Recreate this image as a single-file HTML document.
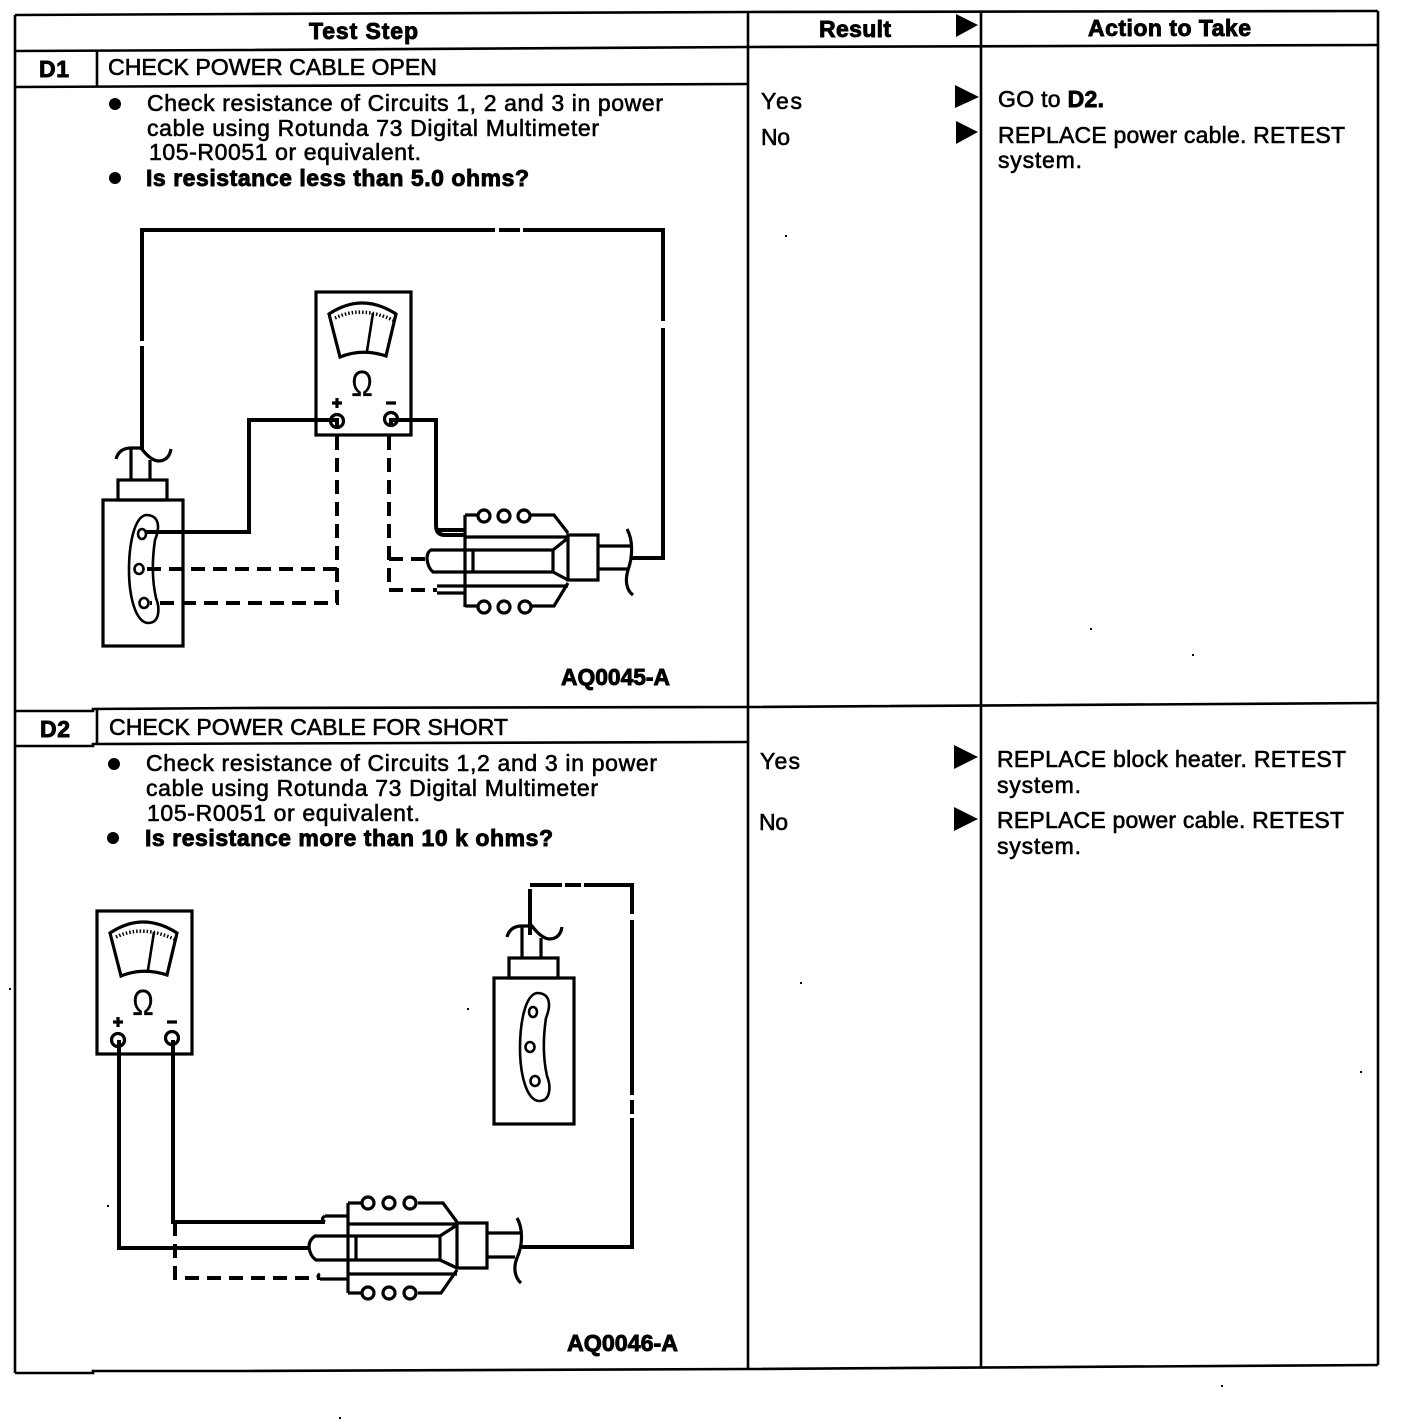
<!DOCTYPE html>
<html><head><meta charset="utf-8"><style>
html,body{margin:0;padding:0;background:#fff}
svg{display:block}
text{font-family:"Liberation Sans",sans-serif;font-size:23px;fill:#000;stroke:#000;stroke-width:.6px}
.b{font-weight:bold;stroke-width:.9px}
.t{fill:none;stroke:#000;stroke-width:2.6}
.m{fill:none;stroke:#000;stroke-width:3.2}
.w{fill:none;stroke:#000;stroke-width:4}
.d{fill:none;stroke:#000;stroke-width:4;stroke-dasharray:14 8}
.c{fill:#fff;stroke:#000;stroke-width:3.2}
</style></head><body>
<svg xmlns="http://www.w3.org/2000/svg" width="1424" height="1426" viewBox="0 0 1424 1426">
<rect width="1424" height="1426" fill="#fff"/>
<!-- table -->
<g class="t">
<path d="M15 15L240 14L748 12L1378 11"/>
<path d="M15 51L240 50L748 47L1378 45"/>
<path d="M15 87L240 86L748 84"/>
<path d="M15 711H93V709L240 708L748 707L1378 703"/>
<path d="M15 746H93V744L748 742"/>
<path d="M15 1373H93V1371H245L748 1369L1378 1365"/>
<path d="M15 15V1373M748 12V1369M981 11V1367M1378 11V1365"/>
<path d="M97 50V87M97 710V745"/>
</g>
<!-- arrowheads -->
<g fill="#000">
<path d="M956 14L978 25L956 37Z"/>
<path d="M955 85L979 97L955 108Z"/>
<path d="M956 121L978 132L956 144Z"/>
<path d="M954 745L978 757L954 769Z"/>
<path d="M954 807L978 819L954 831Z"/>
<circle cx="115" cy="104" r="6"/><circle cx="115" cy="178" r="6"/>
<circle cx="114" cy="764" r="6"/><circle cx="113" cy="838" r="6"/>
</g>
<!-- header text -->
<text class="b" x="309" y="39" textLength="109" lengthAdjust="spacing">Test Step</text>
<text class="b" x="819" y="37" textLength="72" lengthAdjust="spacing">Result</text>
<text class="b" x="1088" y="36" textLength="163" lengthAdjust="spacing">Action to Take</text>
<!-- D1 text -->
<text class="b" x="39" y="77" textLength="30" lengthAdjust="spacing">D1</text>
<text x="108" y="75" textLength="329" lengthAdjust="spacingAndGlyphs">CHECK POWER CABLE OPEN</text>
<text x="147" y="111" textLength="516" lengthAdjust="spacing">Check resistance of Circuits 1, 2 and 3 in power</text>
<text x="147" y="136" textLength="452" lengthAdjust="spacing">cable using Rotunda 73 Digital Multimeter</text>
<text x="149" y="160" textLength="272" lengthAdjust="spacing">105-R0051 or equivalent.</text>
<text class="b" x="146" y="186" textLength="383" lengthAdjust="spacing">Is resistance less than 5.0 ohms?</text>
<text x="761" y="109" textLength="41" lengthAdjust="spacing">Yes</text>
<text x="761" y="145" textLength="29" lengthAdjust="spacing">No</text>
<text x="998" y="107" textLength="106" lengthAdjust="spacing">GO to <tspan class="b">D2.</tspan></text>
<text x="998" y="143" textLength="347" lengthAdjust="spacing">REPLACE power cable. RETEST</text>
<text x="998" y="168" textLength="84" lengthAdjust="spacing">system.</text>
<text class="b" x="561" y="685" textLength="109" lengthAdjust="spacingAndGlyphs">AQ0045-A</text>
<!-- D2 text -->
<text class="b" x="40" y="737" textLength="30" lengthAdjust="spacing">D2</text>
<text x="109" y="735" textLength="399" lengthAdjust="spacingAndGlyphs">CHECK POWER CABLE FOR SHORT</text>
<text x="146" y="771" textLength="511" lengthAdjust="spacing">Check resistance of Circuits 1,2 and 3 in power</text>
<text x="146" y="796" textLength="452" lengthAdjust="spacing">cable using Rotunda 73 Digital Multimeter</text>
<text x="147" y="821" textLength="273" lengthAdjust="spacing">105-R0051 or equivalent.</text>
<text class="b" x="145" y="846" textLength="408" lengthAdjust="spacing">Is resistance more than 10 k ohms?</text>
<text x="760" y="769" textLength="40" lengthAdjust="spacing">Yes</text>
<text x="759" y="830" textLength="29" lengthAdjust="spacing">No</text>
<text x="997" y="767" textLength="349" lengthAdjust="spacing">REPLACE block heater. RETEST</text>
<text x="997" y="793" textLength="84" lengthAdjust="spacing">system.</text>
<text x="997" y="828" textLength="347" lengthAdjust="spacing">REPLACE power cable. RETEST</text>
<text x="997" y="854" textLength="84" lengthAdjust="spacing">system.</text>
<text class="b" x="567" y="1351" textLength="111" lengthAdjust="spacingAndGlyphs">AQ0046-A</text>

<!-- D1 meter -->
<g id="meter">
<rect x="316" y="292" width="95" height="143" class="m"/>
<path class="m" d="M329 314Q362 292 396 314L386 356Q362 348 340 357Z"/>
<path fill="none" stroke="#000" stroke-width="3.5" stroke-dasharray="1.5 2" d="M335 318Q362 305 395 321"/>
<path class="t" d="M373 313L367 351"/>
<path class="m" d="M332 403H342M337 398V408M386 403H396"/>
<circle cx="337" cy="421" r="6.5" fill="none" stroke="#000" stroke-width="3.2"/>
<circle cx="391" cy="419" r="6.5" fill="none" stroke="#000" stroke-width="3.2"/>
</g>
<text transform="translate(362 396) scale(.8 1)" text-anchor="middle" style="font-size:36px;stroke-width:.2px">Ω</text>
<!-- D1 plug -->
<g id="plug">
<rect x="103" y="500" width="80" height="146" class="m"/>
<rect x="118" y="480" width="49" height="20" class="m"/>
<path class="m" d="M131 448V479M150 460V479"/>
<path class="m" d="M116 459Q119 448 131 448H141Q150 460 158 461Q169 461 171 449"/>
<path class="t" d="M146 515C134 517 129 545 129 570C129 595 135 622 148 623C160 623 160 608 156 598C152 580 152 560 155 540C161 525 158 515 146 515Z"/>
<ellipse cx="142" cy="534" rx="4" ry="5" class="t"/>
<ellipse cx="139" cy="569" rx="4.5" ry="5" class="t"/>
<ellipse cx="144" cy="603" rx="4.5" ry="5" class="t"/>
</g>
<!-- D1 wires -->
<path class="w" d="M142 450V346M142 341V230H495M499 230H520M523 230H663V321M663 328V558H632"/>
<path class="w" d="M337 426V420H249V532H145"/>
<path class="w" d="M391 426V420H436V525Q436 535 445 535H466M436 530H466"/>
<path class="d" d="M337 436V603H150"/>
<path class="d" d="M337 569H145"/>
<path class="d" d="M389 436V590H437"/>
<path class="d" stroke-dasharray="13 6" d="M389 559H427"/>
<!-- D1 connector -->
<path class="m" d="M465 515V607"/>
<path class="m" d="M465 515H478M530 515H554L568 533M465 606H478M532 606H554L568 583"/>
<path class="m" d="M465 537H568M465 586H568M568 535H598V580H568Z"/>
<path class="t" d="M568 537V580"/>
<path class="m" d="M553 550H431Q427 552 427 559Q428 568 433 572H553V550M553 550L568 538M553 572L568 580M473 550V572"/>
<path class="m" d="M437 586H465M437 593H465"/>
<path class="m" d="M598 546H631M598 569H627"/>
<path class="m" d="M627 529C633 540 633 556 628 570C625 580 626 590 633 595"/>
<circle class="c" cx="484" cy="516" r="6"/><circle class="c" cx="504" cy="516" r="6"/><circle class="c" cx="524" cy="516" r="6"/>
<circle class="c" cx="484" cy="607" r="6"/><circle class="c" cx="504" cy="607" r="6"/><circle class="c" cx="525" cy="607" r="6"/>

<!-- D2 meter -->
<use href="#meter" transform="translate(-219 619)"/>
<text transform="translate(143 1015) scale(.8 1)" text-anchor="middle" style="font-size:36px;stroke-width:.2px">Ω</text>
<!-- D2 plug -->
<use href="#plug" transform="translate(391 478)"/>
<!-- D2 wires -->
<path class="w" d="M530 935V889M530 885H562M565 885H581M584 885H632V914M632 920V1095M632 1100V1114M632 1118V1247H522"/>
<path class="w" d="M119 1040V1248H309"/>
<path class="w" d="M173 1040V1222H325"/>
<path class="d" d="M175 1222V1278H320"/>
<!-- D2 connector -->
<path class="m" d="M348 1203V1293"/>
<path class="m" d="M348 1203H362M418 1203H443L457 1222M348 1293H362M418 1293H441L457 1270"/>
<path class="m" d="M348 1224H457M348 1274H457M457 1223H487V1268H457Z"/>
<path class="m" d="M440 1236H315Q309 1240 309 1247Q310 1256 316 1260H440V1236M440 1236L457 1225M440 1260L457 1268M356 1236V1260"/>
<path class="m" d="M325 1216H348M320 1279H348M325 1216Q320 1219 325 1222M320 1274Q316 1276 320 1279"/>
<path class="m" d="M487 1233H520M487 1257H515"/>
<path class="m" d="M517 1218C523 1228 523 1245 517 1258C513 1268 515 1278 521 1283"/>
<circle class="c" cx="368" cy="1203" r="6"/><circle class="c" cx="389" cy="1203" r="6"/><circle class="c" cx="410" cy="1203" r="6"/>
<circle class="c" cx="368" cy="1293" r="6"/><circle class="c" cx="389" cy="1293" r="6"/><circle class="c" cx="410" cy="1293" r="6"/>

<!-- specks -->
<g fill="#000">
<rect x="1221" y="1385" width="2" height="2"/><rect x="339" y="1417" width="2" height="2"/>
<rect x="9" y="988" width="2" height="2"/><rect x="785" y="235" width="2" height="2"/>
<rect x="1192" y="654" width="2" height="2"/><rect x="1090" y="628" width="2" height="2"/>
<rect x="800" y="982" width="2" height="2"/><rect x="1360" y="1071" width="2" height="2"/>
<rect x="467" y="1008" width="2" height="2"/><rect x="107" y="1205" width="2" height="2"/>
</g>
</svg>
</body></html>
